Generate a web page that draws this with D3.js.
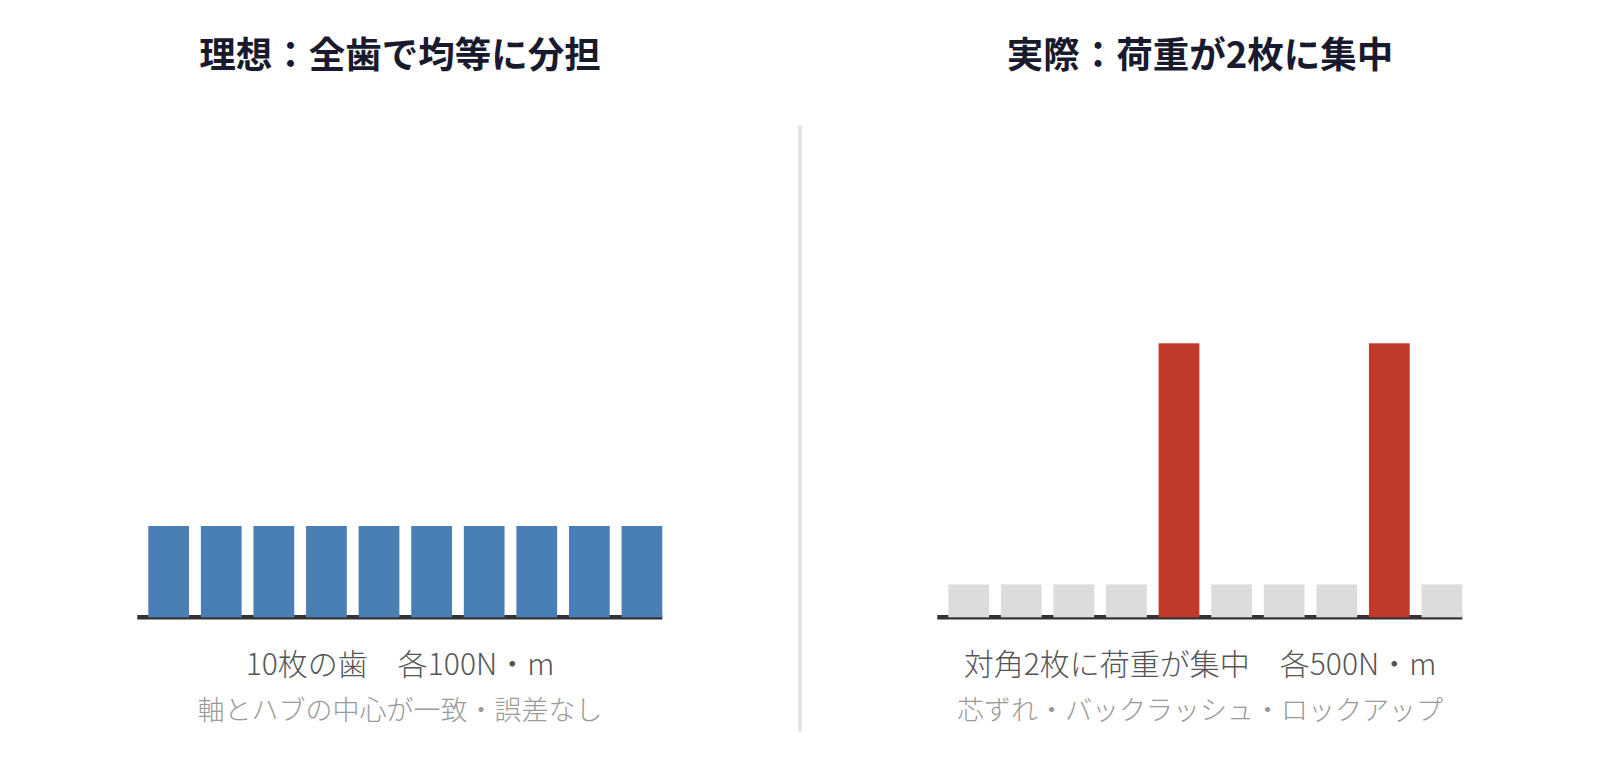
<!DOCTYPE html>
<html lang="ja">
<head>
<meta charset="utf-8">
<title>理想と実際の荷重分布</title>
<script src="https://cdn.jsdelivr.net/npm/d3@7"></script>
<style>
    html, body { margin: 0; padding: 0; background: #ffffff; }
    svg { display: block; font-family: "Noto Sans CJK JP", "Noto Sans", sans-serif; }
</style>
</head>
<body>
<div id="chart"></div>
<script>
// 歯番号（カテゴリ）
const teeth = [1, 2, 3, 4, 5, 6, 7, 8, 9, 10];

// 理想：全歯で均等（N・m）
const idealLoads = [100, 100, 100, 100, 100, 100, 100, 100, 100, 100];

// 実際：対角2枚に集中（N・m、その他はわずかな接触のみ）
const actualLoads = [60, 60, 60, 60, 500, 60, 60, 60, 500, 60];
const concentratedTeeth = [5, 9];

const panelTitles = ['理想：全歯で均等に分担', '実際：荷重が2枚に集中'];
const panelNotes = ['10枚の歯　各100N・m', '対角2枚に荷重が集中　各500N・m'];
const panelSubNotes = ['軸とハブの中心が一致・誤差なし', '芯ずれ・バックラッシュ・ロックアップ'];

const W = 1600, H = 778;
const panelW = 800;
const baseY = 617.3;

const svg = d3.select('#chart')
    .append('svg')
    .attr('width', W)
    .attr('height', H);

function drawPanel(offsetX, loads, yMax, yTop, colorOf, i) {
    const g = svg.append('g').attr('transform', `translate(${offsetX}, 0)`);

    const x = d3.scaleBand()
        .domain(teeth)
        .range([148.3, 662.3])
        .paddingInner(0.225)
        .paddingOuter(0);

    const y = d3.scaleLinear()
        .domain([0, yMax])
        .range([baseY, yTop]);

    // 地面ライン
    g.append('line')
        .attr('x1', x.range()[0] - 11).attr('x2', x.range()[1])
        .attr('y1', baseY).attr('y2', baseY)
        .attr('stroke', '#333333')
        .attr('stroke-width', 4.5);

    g.selectAll('rect.tooth')
        .data(teeth)
        .join('rect')
        .attr('class', 'tooth')
        .attr('x', d => x(d))
        .attr('width', x.bandwidth())
        .attr('y', (d, k) => y(loads[k]))
        .attr('height', (d, k) => y(0) - y(loads[k]))
        .attr('fill', d => colorOf(d));

    g.append('text')
        .attr('x', 400).attr('y', 68)
        .attr('text-anchor', 'middle')
        .style('font-size', '36.5px')
        .style('font-weight', 700)
        .style('fill', '#1a1a2e')
        .text(panelTitles[i]);

    g.append('text')
        .attr('x', 400).attr('y', 675)
        .attr('text-anchor', 'middle')
        .style('font-size', '30px')
        .style('font-weight', 300)
        .style('fill', '#555555')
        .text(panelNotes[i]);

    g.append('text')
        .attr('x', 400).attr('y', 720)
        .attr('text-anchor', 'middle')
        .style('font-size', '27px')
        .style('font-weight', 300)
        .style('fill', '#999999')
        .text(panelSubNotes[i]);
}

drawPanel(0, idealLoads, 100, 526, () => '#4a7fb5', 0);
drawPanel(panelW, actualLoads, 500, 343.3,
    d => concentratedTeeth.includes(d) ? '#c0392b' : '#dcdcdc', 1);

// 中央の区切り線
svg.append('line')
    .attr('x1', panelW).attr('x2', panelW)
    .attr('y1', 125).attr('y2', 732)
    .attr('stroke', '#e0e0e0')
    .attr('stroke-width', 3.5);
</script>
</body>
</html>
